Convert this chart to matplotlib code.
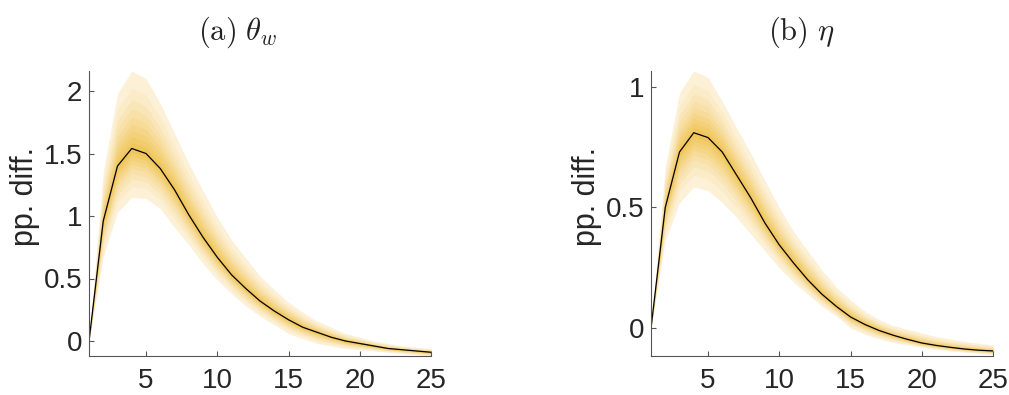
import matplotlib
matplotlib.use("Agg")
import matplotlib.pyplot as plt
import numpy as np

plt.rcParams['mathtext.fontset'] = 'cm'
plt.rcParams['font.family'] = ['Liberation Sans', 'DejaVu Sans']

horizon = np.arange(1, 26)

# (a) theta_w : median and outer (5-95) band edges
med_a = [0, 0.96, 1.40, 1.54, 1.50, 1.38, 1.21, 1.01, 0.83, 0.67, 0.53, 0.42, 0.32,
         0.24, 0.17, 0.11, 0.07, 0.03, 0.00, -0.02, -0.04, -0.06, -0.07, -0.08, -0.09]
up_a = [0, 1.35, 1.98, 2.16, 2.10, 1.90, 1.66, 1.42, 1.20, 0.99, 0.81, 0.66, 0.52,
        0.41, 0.31, 0.23, 0.16, 0.11, 0.06, 0.03, 0.00, -0.02, -0.04, -0.05, -0.06]
lo_a = [0, 0.68, 1.03, 1.15, 1.14, 1.06, 0.91, 0.77, 0.62, 0.49, 0.38, 0.28, 0.20,
        0.13, 0.06, 0.02, -0.02, -0.04, -0.06, -0.07, -0.08, -0.09, -0.10, -0.11, -0.12]

# (b) eta
med_b = [0, 0.50, 0.73, 0.81, 0.79, 0.73, 0.635, 0.54, 0.435, 0.345, 0.27, 0.20, 0.14,
         0.09, 0.046, 0.015, -0.01, -0.03, -0.047, -0.062, -0.072, -0.08, -0.087, -0.092, -0.095]
up_b = [0, 0.67, 0.975, 1.066, 1.04, 0.94, 0.83, 0.725, 0.61, 0.50, 0.40, 0.32, 0.24,
        0.17, 0.116, 0.07, 0.035, 0.01, -0.005, -0.02, -0.035, -0.045, -0.055, -0.063, -0.07]
lo_b = [0, 0.365, 0.52, 0.585, 0.57, 0.52, 0.46, 0.39, 0.32, 0.25, 0.19, 0.14, 0.09,
        0.05, 0.0, -0.025, -0.045, -0.06, -0.07, -0.08, -0.088, -0.095, -0.10, -0.105, -0.11]

# normal quantiles for the 5-95, 10-90, ... 45-55 bands
z = np.array([1.645, 1.282, 1.036, 0.842, 0.674, 0.524, 0.385, 0.253, 0.126])
frac = z / z[0]

light = np.array([252, 240, 215]) / 255
dark = np.array([240, 198, 90]) / 255
txt = '#262626'

fig = plt.figure(figsize=(10.09, 3.95), dpi=100)
W, H = 1009, 395


def panel(left, med, up, lo, ylim, yticks, yticklabels, title, title_x, label_x):
    ax = fig.add_axes([left / W, 1 - 356 / H, 342 / W, 285 / H])
    med = np.array(med)
    up = np.array(up)
    lo = np.array(lo)
    for i, f in enumerate(frac):
        c = light + (dark - light) * i / (len(frac) - 1)
        ax.fill_between(horizon, med - f * (med - lo), med + f * (up - med),
                        color=c, lw=0)
    ax.plot(horizon, med, color='k', lw=0.9)
    ax.set_xlim(1, 25)
    ax.set_ylim(*ylim)
    ax.set_xticks([5, 10, 15, 20, 25])
    ax.set_yticks(yticks)
    ax.set_yticklabels(yticklabels)
    ax.spines['top'].set_visible(False)
    ax.spines['right'].set_visible(False)
    for s in ['left', 'bottom']:
        ax.spines[s].set_color('#555555')
        ax.spines[s].set_linewidth(0.8)
    ax.tick_params(direction='in', length=3.5, width=0.8, color='#555555',
                   labelsize=20, labelcolor=txt)
    ax.tick_params(axis='x', pad=9)
    ax.tick_params(axis='y', pad=5)
    ax.set_ylabel('pp. diff.', fontsize=22, color=txt)
    ax.yaxis.set_label_coords((label_x - left) / 342, (356 - 196) / 285)
    fig.text(title_x / W, 1 - 32 / H, title, ha='center', va='center',
             fontsize=22, color='#222222')
    return ax


panel(89, med_a, up_a, lo_a, (-0.12, 2.16), [0, 0.5, 1, 1.5, 2],
      ['0', '0.5', '1', '1.5', '2'], r'$\mathrm{(a)}\ \theta_w$', 238, 40)
panel(651, med_b, up_b, lo_b, (-0.116, 1.066), [0, 0.5, 1],
      ['0', '0.5', '1'], r'$\mathrm{(b)}\ \eta$', 801, 602)

fig.savefig('out.png', dpi=100)
